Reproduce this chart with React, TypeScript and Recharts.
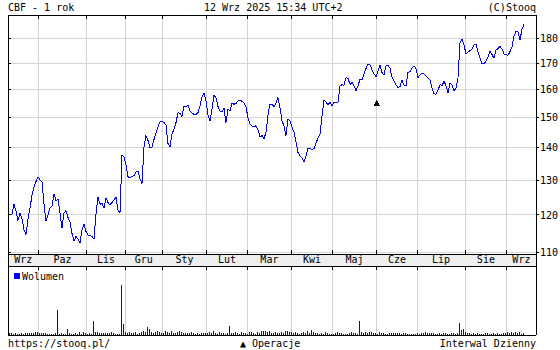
import {
  ComposedChart,
  BarChart,
  Line,
  Bar,
  XAxis,
  YAxis,
  CartesianGrid,
  ReferenceDot,
} from "recharts";

const FONT = '"DejaVu Sans Mono", monospace';

const monthNames = ["Wrz", "Paz", "Lis", "Gru", "Sty", "Lut", "Mar", "Kwi", "Maj", "Cze", "Lip", "Sie", "Wrz"];
// session index where each month begins (grid lines)
const monthStarts = [14.2, 38.4, 57.6, 76.2, 98.4, 118.6, 140.8, 161.2, 183.4, 203.6, 227.5, 248.4];
const priceTicks = [110, 120, 130, 140, 150, 160, 170, 180];

const closes = [
  120, 120.3, 123, 121, 118.5, 120.5, 119, 116, 114.7, 118.8,
  122, 125.5, 128, 129.6, 131, 130.1, 129.5, 123, 118.3, 120,
  122, 122.5, 126, 124, 124.5, 120.5, 116.5, 120.5, 121.2, 119.3,
  118, 115, 113, 114.2, 113.5, 112.5, 116, 117.5, 115.5, 114.6,
  114.5, 114.2, 113.5, 120.3, 125, 123, 123.2, 122, 124.8, 123.5,
  122.8, 123.5, 124.2, 125, 121.3, 120.6, 137.5, 137.2, 134.5, 131,
  130.7, 131.2, 131.3, 132.4, 132.8, 130.4, 129, 140.3, 144, 142.4,
  140.1, 140.3, 142.7, 144.8, 147, 148.6, 148.8, 148.4, 147.5, 141.4,
  140.3, 144.6, 146.1, 148.4, 151.8, 151.5, 150.5, 154.1, 154, 154.4,
  152.4, 151.7, 151.2, 151.2, 151.8, 154.2, 157.5, 158.8, 156, 151,
  149, 153, 158.2, 157, 154, 152.4, 152.2, 153.3, 148.4, 153,
  152.4, 155, 154.8, 155, 156, 156, 155.9, 155.2, 153.8, 150,
  147.9, 147.2, 147, 147.3, 146, 143.5, 144, 143, 145, 151,
  154.8, 154.6, 154, 155.2, 157.2, 153.6, 148.9, 147.3, 144, 149.5,
  149, 146.8, 145.2, 142, 138.5, 137.5, 136.8, 135.5, 137.5, 139.8,
  139.9, 139.4, 139.8, 141.5, 143.3, 144.6, 150.5, 156.2, 155.5, 154.6,
  155.4, 154.3, 155.4, 155.4, 155.4, 161.4, 161.9, 161.7, 164.5, 164.2,
  162, 162.7, 161.5, 159.7, 161.5, 163.9,
  163.7, 166, 168, 169.8, 169.5, 167.5, 166, 164.8, 167, 169.2,
  166.5, 165.5, 169, 169.3, 168.1, 164.8, 163.2, 161.7, 160.9, 161.2,
  163.5, 161.8, 161.5, 166.5, 166.9, 168.2, 169, 168, 164.5, 165.6,
  166.2, 166, 165.2, 164.5, 163.7, 160.8, 158.6, 158.3, 159.8, 161.9,
  161.5, 163.2, 161.5, 158.9, 162.5, 161.8, 159.6, 160.5, 164.5, 178,
  179.8, 177.3, 173.8, 174.5, 175, 175.6, 177.3, 177.8, 174.5, 172,
  169.8, 169.8, 170.8, 172.5, 174.7, 173.5, 172, 175.2, 175.9, 176.7,
  175.8, 173.7, 173.5, 173.2, 174.7, 176.6, 181, 182.9, 182.8, 179.5,
  183.8, 186,
];

const volumes = [
  2, 2, 1, 2, 1, 1, 2, 1, 2, 2,
  2, 2, 2, 3, 3, 2, 2, 2, 2, 1,
  1, 1, 1, 2, 25, 1, 2, 1, 1, 6,
  2, 1, 1, 2, 1, 3, 1, 3, 2, 1,
  2, 1, 14, 3, 3, 2, 2, 2, 2, 2,
  2, 3, 2, 1, 1, 1, 50, 11, 3, 2,
  3, 2, 2, 3, 1, 2, 3, 4, 3, 8,
  6, 3, 2, 3, 4, 3, 2, 2, 4, 3,
  2, 4, 2, 2, 3, 4, 3, 2, 2, 2,
  2, 3, 2, 1, 2, 1, 2, 2, 2, 2,
  3, 2, 4, 2, 1, 3, 2, 2, 1, 2,
  9, 2, 2, 3, 2, 1, 3, 2, 2, 1,
  3, 3, 2, 1, 3, 2, 4, 4, 4, 3,
  4, 2, 2, 3, 2, 2, 3, 2, 4, 4,
  3, 3, 2, 3, 2, 1, 2, 3, 2, 4,
  2, 5, 3, 2, 2, 1, 2, 1, 3, 2,
  1, 1, 1, 2, 3, 2, 2, 1, 1, 1,
  2, 3, 2, 2, 1, 14, 3, 2, 3, 2,
  3, 3, 2, 2, 1, 3, 2, 2, 1, 1,
  2, 2, 2, 2, 2, 2, 1, 2, 2, 1,
  1, 1, 1, 1, 2, 1, 2, 2, 3, 2,
  2, 2, 2, 1, 1, 2, 1, 2, 2, 1,
  1, 2, 2, 1, 2, 12, 5, 6, 3, 2,
  2, 1, 2, 1, 2, 1, 1, 1, 2, 2,
  1, 1, 2, 1, 2, 1, 1, 2, 2, 3,
  2, 3, 2, 3, 2, 3, 1, 2,
];

// corporate action marker ("Operacje")
const operations = [{ i: 183.4, price: 155.2 }];

const X_DOMAIN: [number, number] = [-1, 263];
const Y_DOMAIN: [number, number] = [109.7, 190];

const data = closes.map((close, i) => ({ i, close, vol: volumes[i] }));
const edges = [X_DOMAIN[0], ...monthStarts, X_DOMAIN[1]];
const labelPos = monthNames.map((_, k) => (edges[k] + edges[k + 1]) / 2);

function MonthTick(props: any) {
  const { x, y, payload } = props;
  const k = labelPos.indexOf(payload.value);
  return (
    <text x={x} y={y + 9} textAnchor="middle" fontSize={10} fontFamily={FONT} fill="#000">
      {monthNames[k]}
    </text>
  );
}

// tick lines only, no label
function Blank() {
  return <g />;
}

function Triangle(props: any) {
  const { cx, cy } = props;
  return <path d={`M${cx},${cy - 3.5} L${cx + 3.5},${cy + 3} L${cx - 3.5},${cy + 3} Z`} fill="#000" />;
}

export default function App() {
  return (
    <div
      className="rc"
      style={{ position: "fixed", left: 0, top: 0, width: 560, height: 350, background: "#fff" }}
    >
      <style>{`.rc svg line, .rc svg path, .rc svg rect { shape-rendering: crispEdges; }`}</style>

      {/* month band */}
      <div
        style={{
          position: "absolute",
          left: 8,
          top: 254,
          width: 529,
          height: 12,
          boxSizing: "border-box",
          background: "#eeeeee",
          borderLeft: "1px solid #000",
          borderRight: "1px solid #000",
        }}
      />

      {/* price panel */}
      <ComposedChart
        width={560}
        height={266}
        data={data}
        margin={{ top: 15, right: 0, bottom: 0, left: 8 }}
        style={{ position: "absolute", left: 0, top: 0 }}
      >
        <CartesianGrid xAxisId="grid" yAxisId="price" stroke="#d4d4d4" />
        <XAxis
          xAxisId="grid"
          dataKey="i"
          type="number"
          domain={X_DOMAIN}
          ticks={monthStarts}
          interval={0}
          orientation="bottom"
          height={6}
          mirror
          tick={<Blank />}
          tickSize={4}
          stroke="#000"
          allowDataOverflow
        />
        <XAxis
          xAxisId="lab"
          dataKey="i"
          type="number"
          domain={X_DOMAIN}
          ticks={labelPos}
          interval={0}
          orientation="bottom"
          height={12}
          tickLine={false}
          axisLine={false}
          tickSize={0}
          tickMargin={0}
          tick={<MonthTick />}
          allowDataOverflow
        />
        <XAxis
          xAxisId="top"
          dataKey="i"
          type="number"
          domain={X_DOMAIN}
          ticks={monthStarts}
          interval={0}
          orientation="top"
          height={6}
          mirror
          tick={<Blank />}
          tickSize={4}
          stroke="#000"
          allowDataOverflow
        />
        <YAxis
          yAxisId="price"
          orientation="right"
          width={24}
          scale="log"
          domain={Y_DOMAIN}
          ticks={priceTicks}
          interval={0}
          allowDataOverflow
          stroke="#000"
          tickSize={3}
          tickMargin={1}
          tick={{ fontSize: 10, fontFamily: FONT, fill: "#000" }}
        />
        <YAxis
          yAxisId="left"
          orientation="left"
          width={6}
          scale="log"
          domain={Y_DOMAIN}
          ticks={priceTicks}
          interval={0}
          mirror
          tick={<Blank />}
          tickSize={3}
          stroke="#000"
          allowDataOverflow
        />
        <Line
          xAxisId="grid"
          yAxisId="price"
          type="linear"
          dataKey="close"
          stroke="#0000ff"
          strokeWidth={1}
          dot={false}
          isAnimationActive={false}
        />
        {operations.map((op) => (
          <ReferenceDot
            key={op.i}
            xAxisId="grid"
            yAxisId="price"
            x={op.i}
            y={op.price}
            shape={<Triangle />}
          />
        ))}
      </ComposedChart>

      {/* volume panel */}
      <BarChart
        width={560}
        height={70}
        data={data}
        margin={{ top: 0, right: 0, bottom: 1, left: 8 }}
        style={{ position: "absolute", left: 0, top: 266 }}
      >
        <CartesianGrid xAxisId="vgrid" yAxisId="vol" horizontal={false} stroke="#d4d4d4" />
        <XAxis
          xAxisId="vgrid"
          dataKey="i"
          type="number"
          domain={X_DOMAIN}
          ticks={monthStarts}
          interval={0}
          orientation="top"
          height={6}
          mirror
          tick={<Blank />}
          tickSize={4}
          stroke="#000"
          allowDataOverflow
        />
        <XAxis
          xAxisId="vbottom"
          dataKey="i"
          type="number"
          domain={X_DOMAIN}
          orientation="bottom"
          height={6}
          mirror
          tick={<Blank />}
          tickLine={false}
          stroke="#000"
          allowDataOverflow
        />
        <YAxis
          yAxisId="vol"
          orientation="right"
          width={24}
          domain={[0, 69]}
          tick={<Blank />}
          tickLine={false}
          stroke="#000"
        />
        <YAxis
          yAxisId="vleft"
          orientation="left"
          width={6}
          mirror
          domain={[0, 69]}
          tick={<Blank />}
          tickLine={false}
          stroke="#000"
        />
        <Bar xAxisId="vgrid" yAxisId="vol" dataKey="vol" fill="#0000ff" barSize={1} isAnimationActive={false} />
      </BarChart>

      {/* texts */}
      <svg
        width={560}
        height={350}
        style={{ position: "absolute", left: 0, top: 0, pointerEvents: "none" }}
        fontFamily={FONT}
        fontSize={10}
        fill="#000"
      >
        <text x={8} y={11}>CBF - 1 rok</text>
        <text x={204} y={11}>12 Wrz 2025 15:34 UTC+2</text>
        <text x={536} y={11} textAnchor="end">(C)Stooq</text>
        <rect x={14} y={273} width={6} height={6} fill="#0000ff" />
        <text x={22} y={280}>Wolumen</text>
        <text x={8} y={347}>https://stooq.pl/</text>
        <text x={240} y={347}>▲ Operacje</text>
        <text x={536} y={347} textAnchor="end">Interwal Dzienny</text>
      </svg>
    </div>
  );
}
